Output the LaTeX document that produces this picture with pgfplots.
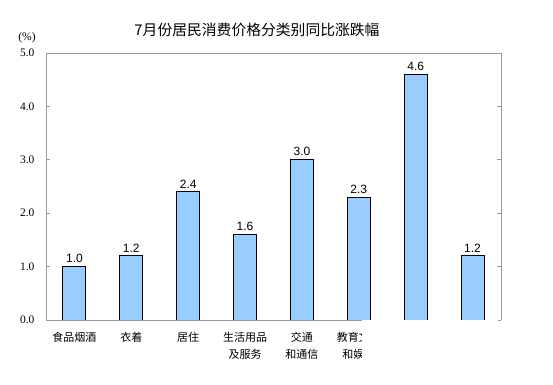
\documentclass[border=0pt]{standalone}
\usepackage{fontspec}
\setmainfont{Liberation Serif}
\newfontfamily\cjk{Noto Sans CJK SC}
\newfontfamily\arial{Liberation Sans}
\usepackage{pgfplots}
\pgfplotsset{compat=1.18}
\definecolor{barblue}{HTML}{99CCFF}
\definecolor{axgray}{HTML}{999999}
\begin{document}
\begin{tikzpicture}
\useasboundingbox (0,0) rectangle (553pt,384pt);
\begin{axis}[
  at={(46pt,64pt)}, anchor=south west,
  scale only axis, width=455pt, height=267pt,
  xmin=-0.5, xmax=7.5, ymin=0, ymax=5,
  axis line style={draw=none},
  ybar, bar width=23pt,
  ytick={0,1,2,3,4,5},
  yticklabel style={font=\fontsize{11.5}{12}\selectfont, xshift=-8pt, /pgf/number format/fixed, /pgf/number format/fixed zerofill, /pgf/number format/precision=1, /pgf/number format/assume math mode=true},
  tick align=inside,
  major tick length=4pt,
  ytick style={axgray, line width=0.8pt},
  xtick=data,
  xticklabels={食品烟酒, 衣着, 居住, 生活用品\\及服务, 交通\\和通信, 教育文化\\和娱乐, {}, {}},
  xticklabel style={font=\cjk\fontsize{11}{17}\selectfont, align=center, yshift=-9pt},
  xtick style={draw=none},
  nodes near coords,
  nodes near coords style={font=\arial\fontsize{12}{13}\selectfont, /pgf/number format/fixed, /pgf/number format/fixed zerofill, /pgf/number format/precision=1, /pgf/number format/assume math mode=true},
  clip=false,
]
\addplot[fill=barblue, draw=black, line width=0.9pt] coordinates {(0,1.0) (1,1.2) (2,2.4) (3,1.6) (4,3.0) (5,2.3) (6,4.6) (7,1.2)};
\draw[axgray, line width=0.9pt] (axis cs:-0.5,0) -- (axis cs:-0.5,5) -- (axis cs:7.5,5) -- (axis cs:7.5,0);
\draw[axgray, line width=0.9pt] (axis cs:-0.5,0) -- (axis cs:5.05,0);
\end{axis}
\fill[white] (362pt,0) rectangle (498pt,63.6pt);
\node at (257pt,354pt) {\cjk\fontsize{14.8}{16}\selectfont 7月份居民消费价格分类别同比涨跌幅};
\node at (27pt,346pt) {\fontsize{11.5}{12}\selectfont (\%)};
\end{tikzpicture}
\end{document}
